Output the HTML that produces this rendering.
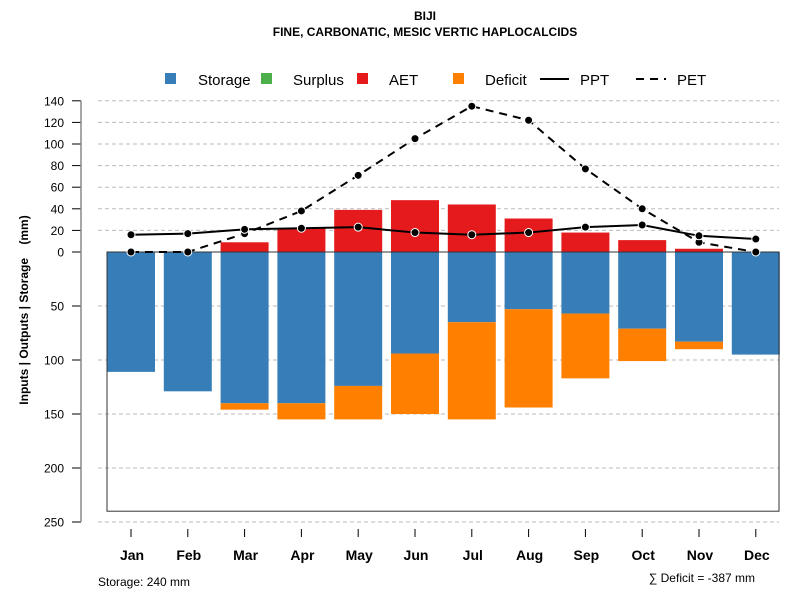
<!DOCTYPE html>
<html><head><meta charset="utf-8"><style>
body{margin:0;background:#fff;}
svg{display:block;font-family:"Liberation Sans",sans-serif;}
</style></head><body>
<svg id="chart" width="800" height="600" viewBox="0 0 800 600" xmlns="http://www.w3.org/2000/svg">
<text x="425" y="20" text-anchor="middle" font-size="12" font-weight="bold">BIJI</text>
<text x="425" y="36" text-anchor="middle" font-size="12" font-weight="bold">FINE, CARBONATIC, MESIC VERTIC HAPLOCALCIDS</text>
<g id="legend" font-size="15">
<rect x="165" y="73" width="11" height="11" fill="#377EB8"/>
<text x="198" y="85">Storage</text>
<rect x="261" y="73" width="11" height="11" fill="#4DAF4A"/>
<text x="293" y="85">Surplus</text>
<rect x="357" y="73" width="11" height="11" fill="#E41A1C"/>
<text x="389" y="85">AET</text>
<rect x="453" y="73" width="11" height="11" fill="#FF7F00"/>
<text x="485" y="85">Deficit</text>
<line x1="540" y1="79" x2="569" y2="79" stroke="#000" stroke-width="2"/>
<text x="580" y="85">PPT</text>
<line x1="636" y1="79" x2="666" y2="79" stroke="#000" stroke-width="2" stroke-dasharray="8,6"/>
<text x="677" y="85">PET</text>
</g>
<text transform="translate(28,310) rotate(-90)" text-anchor="middle" font-size="12" font-weight="bold" xml:space="preserve">Inputs | Outputs | Storage    (mm)</text>
<g id="grid"></g><g id="bars"></g><g id="axes"></g><g id="lines"></g>
<text x="98" y="586" font-size="12">Storage: 240 mm</text>
<text x="755" y="582" text-anchor="end" font-size="12">∑ Deficit = -387 mm</text>
</svg>
<script>
const months=["Jan","Feb","Mar","Apr","May","Jun","Jul","Aug","Sep","Oct","Nov","Dec"];
const storage=[111,129,140,140,124,94,65,53,57,71,83,95];
const deficit=[0,0,6,15,31,56,90,91,60,30,7,0];
const aet=[0,0,9,22,39,48,44,31,18,11,3,0];
const ppt=[16,17,21,22,23,18,16,18,23,25,15,12];
const pet=[0,0,17,38,71,105,135,122,77,40,9,0];
const upTicks=[0,20,40,60,80,100,120,140];
const downTicks=[50,100,150,200,250];
const capacity=240;
const NS="http://www.w3.org/2000/svg";
const y0=252,k=1.08;
function yUp(v){return y0-v*k;}
function yDn(v){return y0+v*k;}
function xc(i){return 131+i*56.8;}
const bw=48;
function mk(tag,attrs,parent,txt){const e=document.createElementNS(NS,tag);for(const a in attrs)e.setAttribute(a,attrs[a]);if(txt!==undefined)e.textContent=txt;parent.appendChild(e);return e;}
const G=document.getElementById('grid'),B=document.getElementById('bars'),A=document.getElementById('axes'),L=document.getElementById('lines');
upTicks.forEach(v=>{
 const y=yUp(v);
 if(v>0){const g=mk('line',{x1:98,x2:779,y1:y,y2:y,stroke:'#bbb','stroke-dasharray':'4,3'},G);
 
 }
 const t=mk('line',{x1:72,x2:81,y1:y,y2:y,stroke:'#000'},A);
 
 
 const l=mk('text',{x:64,y:y+4.5,'text-anchor':'end','font-size':12},A,String(v));
 
 
});
downTicks.forEach(v=>{
 const y=yDn(v);
 const g=mk('line',{x1:98,x2:779,y1:y,y2:y,stroke:'#bbb','stroke-dasharray':'4,3'},G);
 
 
 const t=mk('line',{x1:72,x2:81,y1:y,y2:y,stroke:'#000'},A);
 
 
 const l=mk('text',{x:64,y:y+4.5,'text-anchor':'end','font-size':12},A,String(v));
 
 
});
const ax=mk('line',{x1:81,x2:81,y1:yUp(140),y2:yDn(250),stroke:'#888','stroke-width':1.5},A);


const box=mk('rect',{x:107,y:y0,width:672,height:capacity*k,fill:'none',stroke:'#333'},A);


months.forEach((m,i)=>{
 const x=xc(i);
 const s=mk('rect',{x:x-bw/2,y:y0,width:bw,height:storage[i]*k,fill:'#377EB8'},B);
 
 
 if(deficit[i]>0){const d=mk('rect',{x:x-bw/2,y:yDn(storage[i]),width:bw,height:deficit[i]*k,fill:'#FF7F00'},B);
 
 }
 if(aet[i]>0){const r=mk('rect',{x:x-bw/2,y:yUp(aet[i]),width:bw,height:aet[i]*k,fill:'#E41A1C'},B);
 
 }
 const t=mk('line',{x1:x,x2:x,y1:529,y2:537,stroke:'#000'},A);
 
 
 const l=mk('text',{x:x+1,y:560,'text-anchor':'middle','font-size':14,'font-weight':'bold'},A,m);
 
 
});
const zl=mk('line',{x1:107,x2:779,y1:y0,y2:y0,stroke:'#333'},A);


function series(vals,name,dash){
 const p=mk('polyline',{points:vals.map((v,i)=>xc(i)+','+yUp(v)).join(' '),fill:'none',stroke:'#000','stroke-width':2,'stroke-dasharray':dash},L);
 
 
 vals.forEach((v,i)=>{
  const c=mk('circle',{cx:xc(i),cy:yUp(v),r:4,fill:'#000',stroke:'#fff','stroke-width':1},L);
  
  
 });
}
series(pet,'pet','8,6');
series(ppt,'ppt','none');
</script>
</body></html>
